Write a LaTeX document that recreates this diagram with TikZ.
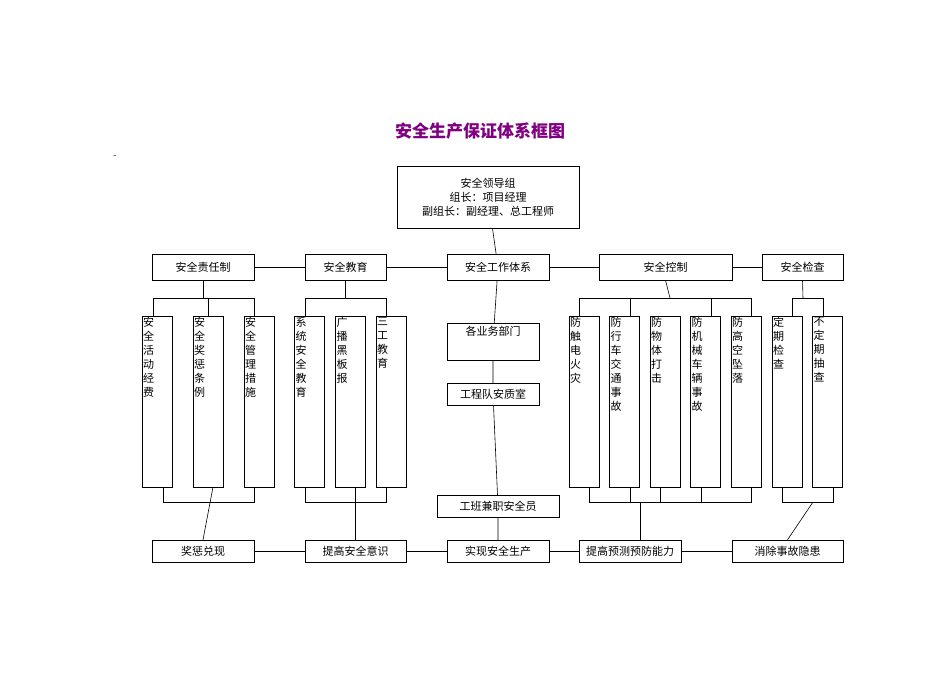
\documentclass[tikz,border=0pt]{standalone}
\usepackage{fontspec}
\setmainfont{Noto Sans CJK SC}
\usetikzlibrary{positioning}
\definecolor{titlepurple}{RGB}{128,0,128}
\tikzset{
  hbox/.style={draw,rectangle,inner sep=0pt,font=\fontsize{11}{13}\selectfont},
  vbox/.style={draw,rectangle,inner sep=0pt,minimum width=30pt,minimum height=171pt},
  vtxt/.style={anchor=north west,inner sep=1pt,align=left,font=\fontsize{11}{14}\selectfont},
  link/.style={draw,line width=0.6pt}
}
\begin{document}
\begin{tikzpicture}[x=1pt,y=-1pt]
\useasboundingbox (0,0) rectangle (950,672);
% title
\node[text=titlepurple,font=\fontsize{17}{20}\selectfont\bfseries] (title) at (480,131) {安全生产保证体系框图};
\node[font=\small] (dash) at (115,157) {-};
% leader box
\node[hbox,minimum width=182pt,minimum height=62pt,align=center,font=\fontsize{11}{14}\selectfont] (lead) at (488,197)
  {安全领导组\\组长：项目经理\\副组长：副经理、总工程师};
% second row
\node[hbox,minimum width=102pt,minimum height=26pt] (zr) at (203,267) {安全责任制};
\node[hbox,minimum width=81pt,minimum height=26pt] (jy) at (345.5,267) {安全教育};
\node[hbox,minimum width=102pt,minimum height=26pt] (gz) at (498,267) {安全工作体系};
\node[hbox,minimum width=133pt,minimum height=26pt] (kz) at (665.5,267) {安全控制};
\node[hbox,minimum width=81pt,minimum height=26pt] (jc) at (802.5,267) {安全检查};
% bottom row
\node[hbox,minimum width=102pt,minimum height=22pt] (jc1) at (203,551) {奖惩兑现};
\node[hbox,minimum width=101pt,minimum height=22pt] (ts) at (355.5,551) {提高安全意识};
\node[hbox,minimum width=102pt,minimum height=22pt] (sx) at (498,551) {实现安全生产};
\node[hbox,minimum width=102pt,minimum height=22pt] (yc) at (630,551) {提高预测预防能力};
\node[hbox,minimum width=111pt,minimum height=22pt] (xc) at (787.5,551) {消除事故隐患};
% middle column
\node[hbox,minimum width=92pt,minimum height=37pt,anchor=north] (yw) at (493,323) {};
\node[font=\fontsize{11}{13}\selectfont,anchor=north] (ywt) at (yw.north) {各业务部门};
\node[hbox,minimum width=92pt,minimum height=22pt] (gc) at (493,394) {工程队安质室};
\node[hbox,minimum width=122pt,minimum height=22pt] (gb) at (498,506) {工班兼职安全员};
% vertical boxes
\foreach \n/\x/\t in {
  a1/157/安\\全\\活\\动\\经\\费, a2/208/安\\全\\奖\\惩\\条\\例, a3/259/安\\全\\管\\理\\措\\施,
  b1/309.5/系\\统\\安\\全\\教\\育, b2/350.5/广\\播\\黑\\板\\报, b3/391/三\\工\\教\\育,
  c1/584/防\\触\\电\\火\\灾, c2/624.5/防\\行\\车\\交\\通\\事\\故, c3/665/防\\物\\体\\打\\击,
  c4/705.5/防\\机\\械\\车\\辆\\事\\故, c5/746/防\\高\\空\\坠\\落,
  d1/787/定\\期\\检\\查, d2/827.5/不\\定\\期\\抽\\查}{
  \node[vbox] (\n) at (\x,401.5) {};
  \node[vtxt] at (\n.north west) {\t};
}
% connectors top
\draw[link] (lead) -- (gz);
\draw[link] (zr) -- (jy) (jy) -- (gz) (gz) -- (kz) (kz) -- (jc);
\draw[link] (zr.south) -- (203,298);
\draw[link] (153,316) |- (254,298) -- (254,316) (208,298) -- (a2.north);
\draw[link] (jy.south) -- (345.5,298);
\draw[link] (305,316) |- (386,298) -- (386,316);
\draw[link] (kz.south) -- (670,298);
\draw[link] (579,316) |- (751,298) -- (751,316);
\foreach \x in {630,711} \draw[link] (\x,298) -- (\x,316);
\draw[link] (jc.south) -- (803,298);
\draw[link] (792,316) |- (823,298) -- (823,316);
% middle column
\draw[link] (gz) -- (yw) (yw) -- (gc) (gc) -- (gb) (gb) -- (sx);
% connectors bottom
\draw[link] (163,487) |- (254,502) -- (254,487);
\draw[link] (213,487) -- (jc1.north);
\draw[link] (305,487) |- (386,502) -- (386,487);
\draw[link] (355.5,487) -- (ts.north);
\draw[link] (589,487) |- (751,502) -- (751,487);
\foreach \x in {630,660,701} \draw[link] (\x,487) -- (\x,502);
\draw[link] (640,502) -- (640,540);
\draw[link] (782,487) |- (833,502) -- (833,487);
\draw[link] (813,502) -- (xc.north);
\draw[link] (jc1) -- (ts) (ts) -- (sx) (sx) -- (yc) (yc) -- (xc);
\end{tikzpicture}
\end{document}
